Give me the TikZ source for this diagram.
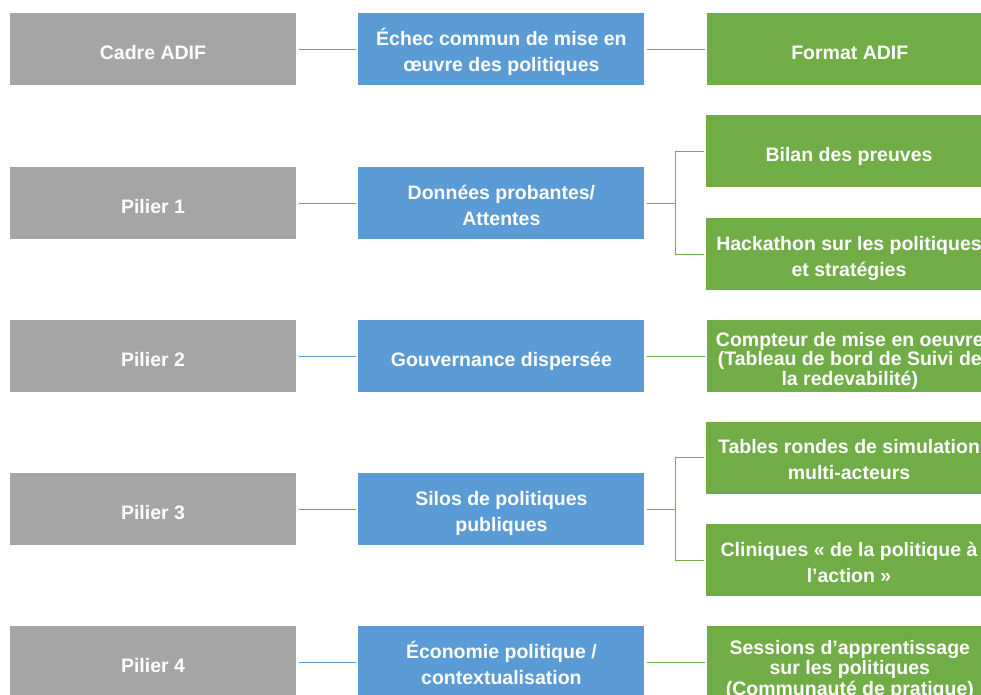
\documentclass[tikz,border=0pt]{standalone}
\usepackage{fontspec}
\setmainfont{Liberation Sans}
\usetikzlibrary{positioning}
\definecolor{grisadif}{HTML}{A5A5A5}
\definecolor{bleuadif}{HTML}{5B9BD5}
\definecolor{vertadif}{HTML}{70AD47}

\begin{document}
\begin{tikzpicture}[x=1pt,y=-1pt,
			boite/.style={minimum width=286pt,minimum height=72pt,inner sep=1pt,align=center,text=white,font=\fontsize{19.5}{26}\selectfont\bfseries,
				text height=20pt,text depth=0pt},
			haut/.style={text height=#1},
			pilier/.style={boite,fill=grisadif},
			defi/.style={boite,fill=bleuadif},
			outil/.style={boite,fill=vertadif},
			lienbleu/.style={draw=bleuadif,line width=1pt,shorten <=3pt,shorten >=2pt},
			lienvert/.style={draw=vertadif,line width=1pt,shorten <=2pt,shorten >=2pt}
			]
			\clip (0,0) rectangle (981,694);
			% ligne d'en-tete
			\node[pilier] (cadre) at (153,49) {Cadre ADIF};
			\node[defi,haut=44pt] (echec) [right=62pt of cadre] {Échec commun de mise en\\œuvre des politiques};
			\node[outil] (format) [right=62pt of echec] {Format ADIF};
			\draw[lienbleu] (cadre) -- (echec);
			\draw[lienvert] (echec) -- (format);
			% pilier 1
			\node[pilier] (p1) at (153,203) {Pilier 1};
			\node[defi,haut=44pt] (donnees) [right=62pt of p1] {Données probantes/\\Attentes};
			\node[outil] (bilan) at (849,151) {Bilan des preuves};
			\node[outil,haut=44pt] (hackathon) at (849,254) {Hackathon sur les politiques\\et stratégies};
			\draw[lienbleu] (p1) -- (donnees);
			\draw[lienvert] (donnees.east) -- ++(31,0) |- (bilan);
			\draw[lienvert] (donnees.east) -- ++(31,0) |- (hackathon);
			% pilier 2
			\node[pilier] (p2) at (153,356) {Pilier 2};
			\node[defi] (gouvernance) [right=62pt of p2] {Gouvernance dispersée};
			\node[outil,haut=58pt,font=\fontsize{19.5}{19.5}\selectfont\bfseries] (compteur) [right=62pt of gouvernance] {Compteur de mise en oeuvre\\(Tableau de bord de Suivi de\\la redevabilité)};
			\draw[lienbleu] (p2) -- (gouvernance);
			\draw[lienvert] (gouvernance) -- (compteur);
			% pilier 3
			\node[pilier] (p3) at (153,509) {Pilier 3};
			\node[defi,haut=44pt] (silos) [right=62pt of p3] {Silos de politiques\\publiques};
			\node[outil,haut=44pt] (tables) at (849,457.5) {Tables rondes de simulation\\multi-acteurs};
			\node[outil,haut=44pt] (cliniques) at (849,560) {Cliniques « de la politique à\\l’action »};
			\draw[lienbleu] (p3) -- (silos);
			\draw[lienvert] (silos.east) -- ++(31,0) |- (tables);
			\draw[lienvert] (silos.east) -- ++(31,0) |- (cliniques);
			% pilier 4
			\node[pilier] (p4) at (153,662) {Pilier 4};
			\node[defi,haut=44pt] (economie) [right=62pt of p4] {Économie politique /\\contextualisation};
			\node[outil,haut=66pt,font=\fontsize{19.5}{20.5}\selectfont\bfseries] (sessions) [right=62pt of economie] {Sessions d’apprentissage\\sur les politiques\\(Communauté de pratique)};
			\draw[lienbleu] (p4) -- (economie);
			\draw[lienvert] (economie) -- (sessions);
		\end{tikzpicture}
\end{document}
